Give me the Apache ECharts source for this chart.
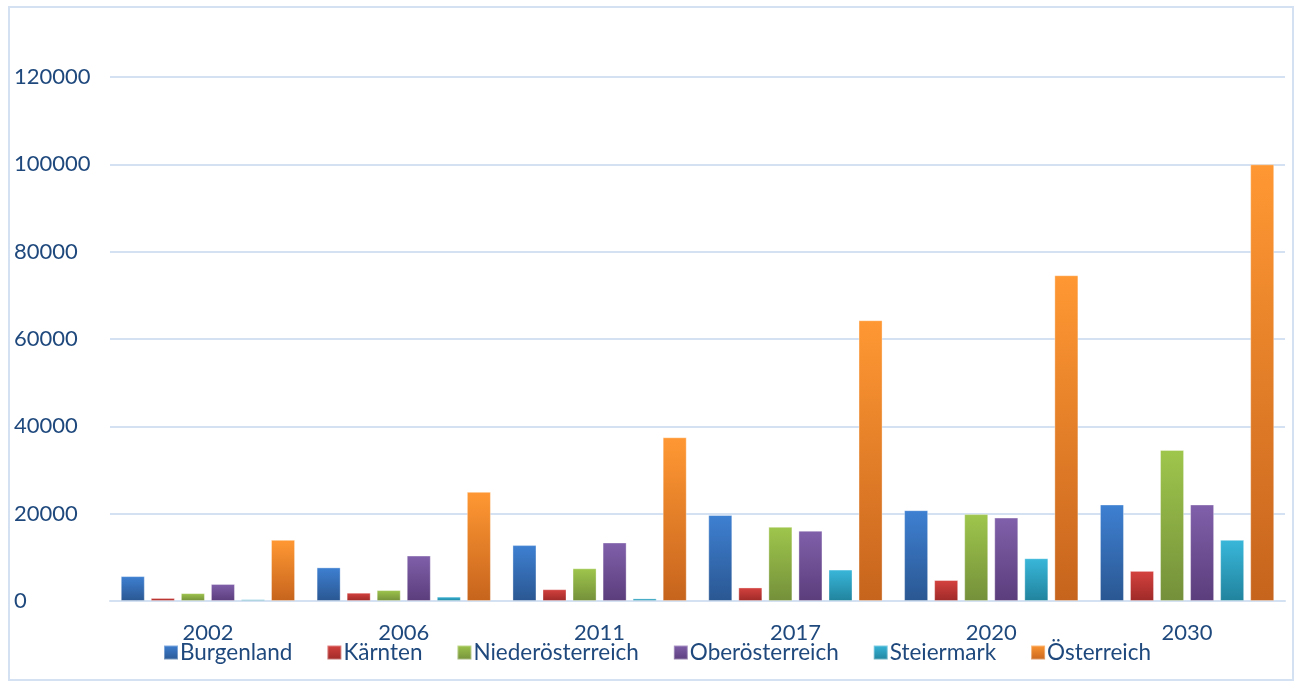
<!DOCTYPE html>
<html><head><meta charset="utf-8">
<script src="https://cdn.jsdelivr.net/npm/echarts@6/dist/echarts.min.js"></script>
<style>html,body{margin:0;padding:0;background:#fff}#c{width:1296px;height:683px}</style>
</head><body><div id="c"></div>
<script>
var categories = ['2002','2006','2011','2017','2020','2030'];
var seriesNames = ['Burgenland','Kärnten','Niederösterreich','Oberösterreich','Steiermark','Österreich'];
var burgenland = [5700, 7700, 12800, 19700, 20800, 22100];
var kaernten = [700, 1900, 2700, 3100, 4800, 6900];
var niederoesterreich = [1800, 2500, 7500, 17000, 19900, 34600];
var oberoesterreich = [3900, 10400, 13400, 16100, 19100, 22100];
var steiermark = [400, 1000, 600, 7200, 9800, 14000];
var oesterreich = [14000, 25000, 37500, 64300, 74600, 100000];
var yTicks = [0, 20000, 40000, 60000, 80000, 100000, 120000];

var values = [burgenland, kaernten, niederoesterreich, oberoesterreich, steiermark, oesterreich];
var colorPairs = [
  ['#3E80D2','#2A5792'],
  ['#D5423F','#9E2A28'],
  ['#9FC64C','#74903A'],
  ['#8060AA','#5B3D7C'],
  ['#39B7DA','#21839D'],
  ['#FF9833','#C6641D']
];
var textColor = '#1F497D';
var font = 'Lato';

function grad(p){
  return new echarts.graphic.LinearGradient(0,0,0,1,[{offset:0,color:p[0]},{offset:1,color:p[1]}]);
}

var chart = echarts.init(document.getElementById('c'));
chart.setOption({
  animation:false,
  textStyle:{fontFamily:font},
  graphic:[{type:'rect',shape:{x:9,y:7,width:1284,height:673},style:{fill:'none',stroke:'#D3E1F2',lineWidth:2},silent:true}],
  grid:{left:110,right:11,top:77,bottom:82,containLabel:false},
  legend:{
    data:seriesNames, left:158, top:636, itemWidth:14, itemHeight:14, itemGap:34,
    icon:'rect',
    textStyle:{color:textColor,fontSize:22.5,fontFamily:font,padding:[0,0,0,-3]}
  },
  xAxis:{
    type:'category', data:categories,
    axisLine:{show:true,lineStyle:{color:'#D3E1F2',width:2}},
    axisTick:{show:false},
    axisLabel:{color:textColor,fontSize:22,margin:21,fontFamily:font}
  },
  yAxis:{
    type:'value', min:0, max:120000, interval:20000,
    axisLine:{show:false}, axisTick:{show:false},
    axisLabel:{color:textColor,fontSize:22,align:'left',margin:96,fontFamily:font,
      formatter:function(v){return String(v);}},
    splitLine:{lineStyle:{color:'#D3E1F2',width:2}}
  },
  series: seriesNames.map(function(n,i){
    return {
      name:n, type:'bar', data:values[i],
      barGap:'25%', barCategoryGap:'11%',
      itemStyle:{color:grad(colorPairs[i]), borderColor:'rgba(255,255,255,0.35)', borderWidth:1}
    };
  })
});
</script></body></html>
